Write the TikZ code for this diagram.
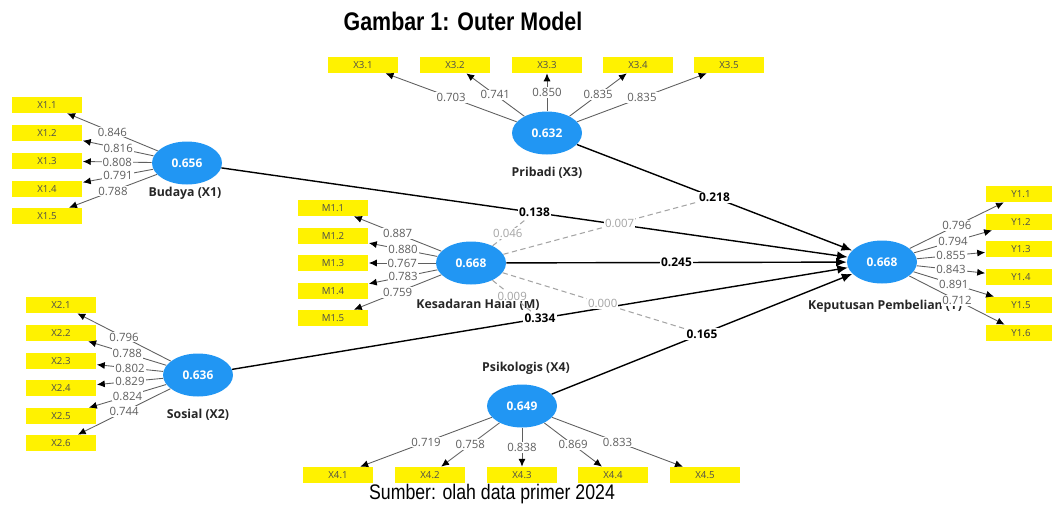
\documentclass[tikz,border=0pt]{standalone}
\usepackage{fontspec}
\setmainfont{Open Sans}
\newfontfamily\narrowfont[FakeStretch=0.84]{Liberation Sans}
\usetikzlibrary{shapes.geometric,arrows.meta}

\definecolor{plsblue}{RGB}{33,150,243}
\definecolor{plsyellow}{RGB}{255,242,0}
\definecolor{plsgrey}{RGB}{95,95,95}
\definecolor{modgrey}{RGB}{165,165,165}

\tikzset{
	latent/.style={ellipse, fill=plsblue, minimum width=1.4cm, minimum height=0.86cm, inner sep=0pt, text=white, font=\fontsize{6.8}{7}\selectfont\bfseries},
	latentname/.style={font=\fontsize{7}{8}\selectfont\bfseries, text=black!85, inner sep=1pt},
	indicator/.style={fill=plsyellow, minimum width=1.42cm, minimum height=0.32cm, inner sep=0pt, text=black!70, font=\fontsize{5.5}{6}\selectfont},
	loading/.style={draw=plsgrey, line width=0.5pt, -{Latex[color=black, length=4.5pt, width=4pt]}},
	loadval/.style={midway, fill=white, inner sep=0.6pt, text=plsgrey, font=\fontsize{6.5}{7}\selectfont},
	structural/.style={draw=black, line width=0.8pt, -{Latex[length=6pt, width=5pt]}},
	pathval/.style={midway, fill=white, inner sep=0.8pt, text=black, font=\fontsize{6.8}{7}\selectfont\bfseries},
	moderation/.style={draw=modgrey, line width=0.6pt, dash pattern=on 3pt off 2pt},
	modval/.style={fill=white, inner sep=0.6pt, text=modgrey, font=\fontsize{6.5}{7}\selectfont}
}

\begin{document}
\begin{tikzpicture}[x=0.02cm, y=-0.02cm]
	\useasboundingbox (0,0) rectangle (1052,511);
	\node[font=\narrowfont\fontsize{14.5}{16}\selectfont\bfseries] (title) at (463,21) {Gambar 1: Outer Model};
	\node[font=\narrowfont\fontsize{12}{14}\selectfont] (source) at (492,494) {Sumber: olah data primer 2024};

	% latent variables
	\node[latent] (x1) at (187,163) {0.656};
	\node[latent] (x3) at (547,133) {0.632};
	\node[latent] (m) at (471,263) {0.668};
	\node[latent] (x2) at (198,375) {0.636};
	\node[latent] (y) at (882,262) {0.668};
	\node[latent] (x4) at (522,406) {0.649};

	\node[latentname] (x1name) at (185,193) {Budaya (X1)};
	\node[latentname] (x3name) at (547,173) {Pribadi (X3)};
	\node[latentname] (mname) at (478,305) {Kesadaran Halal (M)};
	\node[latentname] (x2name) at (198,415) {Sosial (X2)};
	\node[latentname, anchor=west] (yname) at (806,306) {Keputusan Pembelian (Y)};
	\node[latentname] (x4name) at (526,368) {Psikologis (X4)};

	% indicators
	\node[indicator] (x11) at (47,105) {X1.1};
	\node[indicator] (x12) at (47,133) {X1.2};
	\node[indicator] (x13) at (47,161) {X1.3};
	\node[indicator] (x14) at (47,189) {X1.4};
	\node[indicator] (x15) at (47,216) {X1.5};

	\node[indicator] (x21) at (61,305) {X2.1};
	\node[indicator] (x22) at (61,333) {X2.2};
	\node[indicator] (x23) at (61,361) {X2.3};
	\node[indicator] (x24) at (61,388) {X2.4};
	\node[indicator] (x25) at (61,416) {X2.5};
	\node[indicator] (x26) at (61,443) {X2.6};

	\node[indicator] (x31) at (363,65) {X3.1};
	\node[indicator] (x32) at (455,65) {X3.2};
	\node[indicator] (x33) at (547,65) {X3.3};
	\node[indicator] (x34) at (638,65) {X3.4};
	\node[indicator] (x35) at (729,65) {X3.5};

	\node[indicator] (m11) at (333,208) {M1.1};
	\node[indicator] (m12) at (333,236) {M1.2};
	\node[indicator] (m13) at (333,263) {M1.3};
	\node[indicator] (m14) at (333,291) {M1.4};
	\node[indicator] (m15) at (333,318) {M1.5};

	\node[indicator] (y11) at (1021,194) {Y1.1};
	\node[indicator] (y12) at (1021,222) {Y1.2};
	\node[indicator] (y13) at (1021,249) {Y1.3};
	\node[indicator] (y14) at (1021,277) {Y1.4};
	\node[indicator] (y15) at (1021,305) {Y1.5};
	\node[indicator] (y16) at (1021,333) {Y1.6};

	\node[indicator] (x41) at (338,475) {X4.1};
	\node[indicator] (x42) at (430,475) {X4.2};
	\node[indicator] (x43) at (522,475) {X4.3};
	\node[indicator] (x44) at (613,475) {X4.4};
	\node[indicator] (x45) at (705,475) {X4.5};

	% structural paths
	\draw[structural] (x1) -- (y) node[pathval] (p1) {0.138};
	\draw[structural] (x3) -- (y) node[pathval] (p2) {0.218};
	\draw[structural] (m) -- (y) node[pathval] (p3) {0.245};
	\draw[structural] (x2) -- (y) node[pathval] (p4) {0.334};
	\draw[structural] (x4) -- (y) node[pathval] (p5) {0.165};

	% moderating effects
	\draw[moderation] (m) -- (p1) node[modval, pos=0.45] {0.046};
	\draw[moderation] (m) -- (p2) node[modval, pos=0.6] {0.007};
	\draw[moderation] (m) -- (p4) node[modval, pos=0.5] {0.009};
	\draw[moderation] (m) -- (p5) node[modval, pos=0.55] {0.000};

	% outer loadings
	\draw[loading] (x1) -- (x11) node[loadval] {0.846};
	\draw[loading] (x1) -- (x12) node[loadval] {0.816};
	\draw[loading] (x1) -- (x13) node[loadval] {0.808};
	\draw[loading] (x1) -- (x14) node[loadval] {0.791};
	\draw[loading] (x1) -- (x15) node[loadval] {0.788};

	\draw[loading] (x2) -- (x21) node[loadval] {0.796};
	\draw[loading] (x2) -- (x22) node[loadval] {0.788};
	\draw[loading] (x2) -- (x23) node[loadval] {0.802};
	\draw[loading] (x2) -- (x24) node[loadval] {0.829};
	\draw[loading] (x2) -- (x25) node[loadval] {0.824};
	\draw[loading] (x2) -- (x26) node[loadval] {0.744};

	\draw[loading] (x3) -- (x31) node[loadval] {0.703};
	\draw[loading] (x3) -- (x32) node[loadval] {0.741};
	\draw[loading] (x3) -- (x33) node[loadval] {0.850};
	\draw[loading] (x3) -- (x34) node[loadval] {0.835};
	\draw[loading] (x3) -- (x35) node[loadval] {0.835};

	\draw[loading] (m) -- (m11) node[loadval] {0.887};
	\draw[loading] (m) -- (m12) node[loadval] {0.880};
	\draw[loading] (m) -- (m13) node[loadval] {0.767};
	\draw[loading] (m) -- (m14) node[loadval] {0.783};
	\draw[loading] (m) -- (m15) node[loadval] {0.759};

	\draw[loading] (y) -- (y11) node[loadval] {0.796};
	\draw[loading] (y) -- (y12) node[loadval] {0.794};
	\draw[loading] (y) -- (y13) node[loadval] {0.855};
	\draw[loading] (y) -- (y14) node[loadval] {0.843};
	\draw[loading] (y) -- (y15) node[loadval] {0.891};
	\draw[loading] (y) -- (y16) node[loadval] {0.712};

	\draw[loading] (x4) -- (x41) node[loadval] {0.719};
	\draw[loading] (x4) -- (x42) node[loadval] {0.758};
	\draw[loading] (x4) -- (x43) node[loadval] {0.838};
	\draw[loading] (x4) -- (x44) node[loadval] {0.869};
	\draw[loading] (x4) -- (x45) node[loadval] {0.833};
\end{tikzpicture}
\end{document}
